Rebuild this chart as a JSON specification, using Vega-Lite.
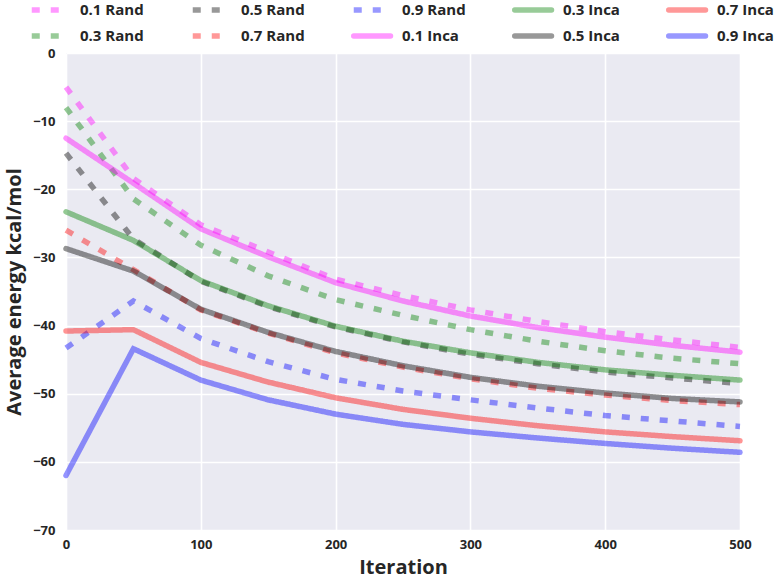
{
  "$schema": "https://vega.github.io/schema/vega-lite/v6.json",
  "autosize": {"type": "none"},
  "padding": {"left": 66, "top": 53, "right": 37, "bottom": 54},
  "width": 674,
  "height": 477,
  "background": "white",
  "config": {
    "view": {"fill": "#EAEAF2", "stroke": null},
    "font": "Open Sans",
    "axis": {
      "domain": false,
      "ticks": false,
      "labelFlush": false,
      "gridColor": "white",
      "gridWidth": 1.6,
      "labelFont": "Open Sans",
      "labelFontWeight": "bold",
      "labelFontSize": 13,
      "labelColor": "#262626",
      "titleFont": "Open Sans",
      "titleFontWeight": "bold",
      "titleFontSize": 20,
      "titleColor": "#262626"
    },
    "legend": {
      "title": null,
      "orient": "none",
      "legendX": -37,
      "legendY": -58,
      "direction": "vertical",
      "columns": 5,
      "padding": 0,
      "symbolType": "M-1,0H2",
      "symbolSize": 600,
      "symbolStrokeWidth": 5.5,
      "symbolOpacity": 0.4,
      "labelFont": "Open Sans",
      "labelFontWeight": "bold",
      "labelFontSize": 15,
      "labelColor": "#262626",
      "labelOffset": 21,
      "columnPadding": 37,
      "rowPadding": 0
    }
  },
  "data": {
    "values": [
      {"iter": 0, "series": "0.1 Rand", "energy": -5.0},
      {"iter": 50, "series": "0.1 Rand", "energy": -18.4},
      {"iter": 100, "series": "0.1 Rand", "energy": -25.2},
      {"iter": 150, "series": "0.1 Rand", "energy": -29.2},
      {"iter": 200, "series": "0.1 Rand", "energy": -33.2},
      {"iter": 250, "series": "0.1 Rand", "energy": -35.6},
      {"iter": 300, "series": "0.1 Rand", "energy": -37.7},
      {"iter": 350, "series": "0.1 Rand", "energy": -39.4},
      {"iter": 400, "series": "0.1 Rand", "energy": -40.9},
      {"iter": 450, "series": "0.1 Rand", "energy": -42.1},
      {"iter": 500, "series": "0.1 Rand", "energy": -43.2},

      {"iter": 0, "series": "0.3 Rand", "energy": -8.0},
      {"iter": 50, "series": "0.3 Rand", "energy": -21.4},
      {"iter": 100, "series": "0.3 Rand", "energy": -28.2},
      {"iter": 150, "series": "0.3 Rand", "energy": -32.7},
      {"iter": 200, "series": "0.3 Rand", "energy": -36.2},
      {"iter": 250, "series": "0.3 Rand", "energy": -38.5},
      {"iter": 300, "series": "0.3 Rand", "energy": -40.6},
      {"iter": 350, "series": "0.3 Rand", "energy": -42.3},
      {"iter": 400, "series": "0.3 Rand", "energy": -43.7},
      {"iter": 450, "series": "0.3 Rand", "energy": -44.8},
      {"iter": 500, "series": "0.3 Rand", "energy": -45.6},

      {"iter": 0, "series": "0.5 Rand", "energy": -14.7},
      {"iter": 50, "series": "0.5 Rand", "energy": -27.3},
      {"iter": 100, "series": "0.5 Rand", "energy": -33.5},
      {"iter": 150, "series": "0.5 Rand", "energy": -37.2},
      {"iter": 200, "series": "0.5 Rand", "energy": -40.2},
      {"iter": 250, "series": "0.5 Rand", "energy": -42.4},
      {"iter": 300, "series": "0.5 Rand", "energy": -44.2},
      {"iter": 350, "series": "0.5 Rand", "energy": -45.6},
      {"iter": 400, "series": "0.5 Rand", "energy": -46.8},
      {"iter": 450, "series": "0.5 Rand", "energy": -47.7},
      {"iter": 500, "series": "0.5 Rand", "energy": -48.5},

      {"iter": 0, "series": "0.7 Rand", "energy": -26.0},
      {"iter": 50, "series": "0.7 Rand", "energy": -31.8},
      {"iter": 100, "series": "0.7 Rand", "energy": -37.7},
      {"iter": 150, "series": "0.7 Rand", "energy": -41.1},
      {"iter": 200, "series": "0.7 Rand", "energy": -44.0},
      {"iter": 250, "series": "0.7 Rand", "energy": -46.1},
      {"iter": 300, "series": "0.7 Rand", "energy": -47.8},
      {"iter": 350, "series": "0.7 Rand", "energy": -49.2},
      {"iter": 400, "series": "0.7 Rand", "energy": -50.2},
      {"iter": 450, "series": "0.7 Rand", "energy": -51.0},
      {"iter": 500, "series": "0.7 Rand", "energy": -51.6},

      {"iter": 0, "series": "0.9 Rand", "energy": -43.3},
      {"iter": 50, "series": "0.9 Rand", "energy": -36.4},
      {"iter": 100, "series": "0.9 Rand", "energy": -41.9},
      {"iter": 150, "series": "0.9 Rand", "energy": -45.3},
      {"iter": 200, "series": "0.9 Rand", "energy": -47.9},
      {"iter": 250, "series": "0.9 Rand", "energy": -49.6},
      {"iter": 300, "series": "0.9 Rand", "energy": -50.9},
      {"iter": 350, "series": "0.9 Rand", "energy": -52.1},
      {"iter": 400, "series": "0.9 Rand", "energy": -53.2},
      {"iter": 450, "series": "0.9 Rand", "energy": -54.0},
      {"iter": 500, "series": "0.9 Rand", "energy": -54.8},

      {"iter": 0, "series": "0.1 Inca", "energy": -12.5},
      {"iter": 50, "series": "0.1 Inca", "energy": -19.1},
      {"iter": 100, "series": "0.1 Inca", "energy": -25.8},
      {"iter": 150, "series": "0.1 Inca", "energy": -29.9},
      {"iter": 200, "series": "0.1 Inca", "energy": -33.7},
      {"iter": 250, "series": "0.1 Inca", "energy": -36.4},
      {"iter": 300, "series": "0.1 Inca", "energy": -38.6},
      {"iter": 350, "series": "0.1 Inca", "energy": -40.3},
      {"iter": 400, "series": "0.1 Inca", "energy": -41.7},
      {"iter": 450, "series": "0.1 Inca", "energy": -42.9},
      {"iter": 500, "series": "0.1 Inca", "energy": -43.9},

      {"iter": 0, "series": "0.3 Inca", "energy": -23.3},
      {"iter": 50, "series": "0.3 Inca", "energy": -27.5},
      {"iter": 100, "series": "0.3 Inca", "energy": -33.4},
      {"iter": 150, "series": "0.3 Inca", "energy": -37.1},
      {"iter": 200, "series": "0.3 Inca", "energy": -40.1},
      {"iter": 250, "series": "0.3 Inca", "energy": -42.3},
      {"iter": 300, "series": "0.3 Inca", "energy": -44.0},
      {"iter": 350, "series": "0.3 Inca", "energy": -45.4},
      {"iter": 400, "series": "0.3 Inca", "energy": -46.5},
      {"iter": 450, "series": "0.3 Inca", "energy": -47.3},
      {"iter": 500, "series": "0.3 Inca", "energy": -48.0},

      {"iter": 0, "series": "0.5 Inca", "energy": -28.7},
      {"iter": 50, "series": "0.5 Inca", "energy": -32.0},
      {"iter": 100, "series": "0.5 Inca", "energy": -37.6},
      {"iter": 150, "series": "0.5 Inca", "energy": -41.0},
      {"iter": 200, "series": "0.5 Inca", "energy": -43.8},
      {"iter": 250, "series": "0.5 Inca", "energy": -45.9},
      {"iter": 300, "series": "0.5 Inca", "energy": -47.6},
      {"iter": 350, "series": "0.5 Inca", "energy": -48.9},
      {"iter": 400, "series": "0.5 Inca", "energy": -49.9},
      {"iter": 450, "series": "0.5 Inca", "energy": -50.7},
      {"iter": 500, "series": "0.5 Inca", "energy": -51.2},

      {"iter": 0, "series": "0.7 Inca", "energy": -40.8},
      {"iter": 50, "series": "0.7 Inca", "energy": -40.6},
      {"iter": 100, "series": "0.7 Inca", "energy": -45.4},
      {"iter": 150, "series": "0.7 Inca", "energy": -48.3},
      {"iter": 200, "series": "0.7 Inca", "energy": -50.6},
      {"iter": 250, "series": "0.7 Inca", "energy": -52.3},
      {"iter": 300, "series": "0.7 Inca", "energy": -53.6},
      {"iter": 350, "series": "0.7 Inca", "energy": -54.7},
      {"iter": 400, "series": "0.7 Inca", "energy": -55.6},
      {"iter": 450, "series": "0.7 Inca", "energy": -56.3},
      {"iter": 500, "series": "0.7 Inca", "energy": -56.9},

      {"iter": 0, "series": "0.9 Inca", "energy": -62.0},
      {"iter": 50, "series": "0.9 Inca", "energy": -43.4},
      {"iter": 100, "series": "0.9 Inca", "energy": -48.0},
      {"iter": 150, "series": "0.9 Inca", "energy": -50.9},
      {"iter": 200, "series": "0.9 Inca", "energy": -53.0},
      {"iter": 250, "series": "0.9 Inca", "energy": -54.5},
      {"iter": 300, "series": "0.9 Inca", "energy": -55.6},
      {"iter": 350, "series": "0.9 Inca", "energy": -56.5},
      {"iter": 400, "series": "0.9 Inca", "energy": -57.3},
      {"iter": 450, "series": "0.9 Inca", "energy": -58.0},
      {"iter": 500, "series": "0.9 Inca", "energy": -58.6}
    ]
  },
  "encoding": {
    "x": {
      "field": "iter", "type": "quantitative",
      "scale": {"domain": [0, 500], "nice": false},
      "axis": {"values": [0, 100, 200, 300, 400, 500], "title": "Iteration", "labelPadding": 8, "titlePadding": 6}
    },
    "y": {
      "field": "energy", "type": "quantitative",
      "scale": {"domain": [-70, 0], "nice": false},
      "axis": {"values": [-70, -60, -50, -40, -30, -20, -10, 0], "title": "Average energy kcal/mol", "labelPadding": 11, "titlePadding": 8}
    },
    "color": {
      "field": "series", "type": "nominal",
      "scale": {
        "domain": ["0.1 Rand", "0.3 Rand", "0.5 Rand", "0.7 Rand", "0.9 Rand", "0.1 Inca", "0.3 Inca", "0.5 Inca", "0.7 Inca", "0.9 Inca"],
        "range": ["#FF00FF", "#008000", "#000000", "#FF0000", "#0000FF", "#FF00FF", "#008000", "#000000", "#FF0000", "#0000FF"]
      },
      "legend": {
        "encode": {
          "symbols": {"update": {"strokeCap": {"signal": "indexof(datum.value, 'Inca') >= 0 ? 'round' : 'butt'"}}}
        }
      }
    },
    "strokeDash": {
      "field": "series", "type": "nominal",
      "scale": {
        "domain": ["0.1 Rand", "0.3 Rand", "0.5 Rand", "0.7 Rand", "0.9 Rand", "0.1 Inca", "0.3 Inca", "0.5 Inca", "0.7 Inca", "0.9 Inca"],
        "range": [[8, 11], [8, 11], [8, 11], [8, 11], [8, 11], [1, 0], [1, 0], [1, 0], [1, 0], [1, 0]]
      },
      "legend": {
        "encode": {
          "symbols": {"update": {"strokeCap": {"signal": "indexof(datum.value, 'Inca') >= 0 ? 'round' : 'butt'"}}}
        }
      }
    }
  },
  "layer": [
    {
      "transform": [{"filter": "indexof(datum.series, 'Rand') >= 0"}],
      "mark": {"type": "line", "strokeWidth": 5.5, "opacity": 0.42, "strokeCap": "butt"}
    },
    {
      "transform": [{"filter": "indexof(datum.series, 'Inca') >= 0"}],
      "mark": {"type": "line", "strokeWidth": 5.5, "opacity": 0.42, "strokeCap": "round"}
    }
  ]
}
